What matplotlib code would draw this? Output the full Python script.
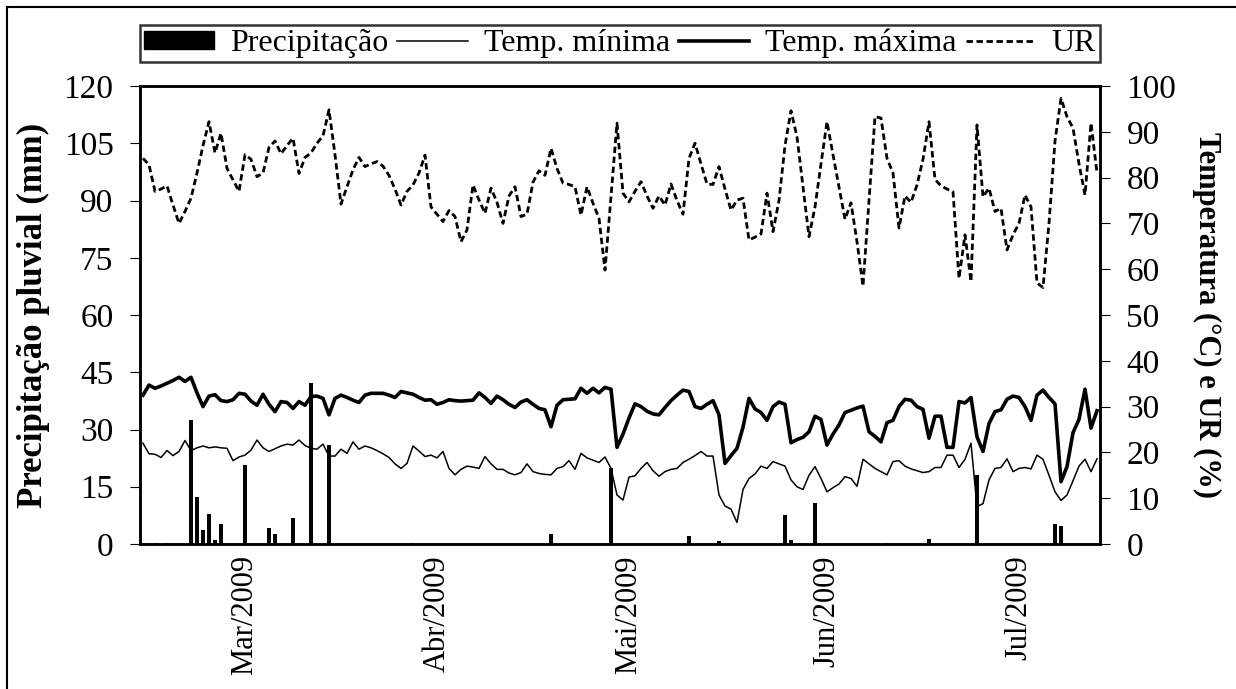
import matplotlib

matplotlib.use("Agg")

import matplotlib.pyplot as plt
import numpy as np
import pandas as pd
from matplotlib.lines import Line2D
from matplotlib.patches import Patch

plt.rcParams["font.family"] = ["Liberation Serif", "DejaVu Serif"]

# daily series, 12/Feb/2009 .. 21/Jul/2009
start_date = "2009-02-12"

ur = [
    84.2, 82.8, 77, 77.5, 78.2, 74, 70, 72.6, 75.5, 81,
    87, 92.2, 85.4, 89.7, 82, 79.5, 77, 85, 84, 80.2,
    81, 86.6, 88, 85.2, 87, 88.6, 80.9, 84.4, 85.4, 87.5,
    89.1, 94.8, 85, 74.2, 78, 81.7, 84.4, 82.4, 83, 83.5,
    82.5, 80.5, 77.5, 74, 77, 78.4, 81, 84.9, 73.6, 72,
    70.4, 72.8, 71.5, 66, 68.6, 78.4, 75.1, 72.2, 77.7, 74.6,
    70, 76, 78, 71.5, 72, 79, 81.5, 80.5, 86.4, 82,
    78.8, 78.5, 78, 71.8, 78, 74.4, 71.1, 59.8, 76, 91.9,
    76.6, 74.7, 77, 79.1, 76, 73.3, 76, 74, 78.6, 75,
    72, 84.2, 87.5, 83, 78.6, 78.5, 82.4, 77.5, 72.9, 75.1,
    75.5, 66.4, 67, 67.7, 76.6, 68.2, 75, 87, 94.6, 88.9,
    78, 67.1, 73.6, 83, 92.2, 85, 78, 70.9, 74.5, 66,
    56.3, 75, 93.3, 93, 84.2, 81, 69, 76, 74.6, 78.4,
    84, 92.2, 79.6, 78.2, 77.5, 76.9, 58, 67.5, 57.3, 91.5,
    75.8, 77.7, 72.6, 73.3, 64.2, 67.5, 70, 76.2, 73.6, 57,
    56, 70, 88, 97.3, 93.3, 90.8, 83, 76.2, 91.9, 81,
]

temp_max = [
    32.5, 34.7, 34, 34.5, 35.1, 35.7, 36.4, 35.5, 36.4, 33,
    30, 32.3, 32.6, 31.3, 31.1, 31.5, 32.9, 32.7, 31.2, 30.3,
    32.7, 30.5, 28.9, 31.1, 30.9, 29.6, 31.1, 30.3, 32.2, 32.3,
    31.8, 28.2, 31.8, 32.5, 32, 31.4, 30.9, 32.5, 32.9, 32.9,
    32.9, 32.5, 32, 33.3, 33, 32.7, 32, 31.4, 31.5, 30.5,
    30.9, 31.5, 31.3, 31.2, 31.3, 31.4, 33, 32, 30.7, 32.3,
    31.5, 30.5, 29.8, 31, 31.5, 30.5, 29.6, 29.3, 25.6, 30.3,
    31.5, 31.6, 31.7, 34, 32.9, 34, 33, 34.2, 33.8, 21.1,
    24, 27.5, 30.6, 30, 29, 28.4, 28.2, 29.8, 31.3, 32.5,
    33.6, 33.3, 30, 29.6, 30.5, 31.3, 28.2, 17.6, 19.3, 20.9,
    25.5, 31.8, 29.5, 28.7, 27, 30, 31, 30.5, 22.1, 22.8,
    23.3, 24.5, 27.9, 27.2, 21.6, 24, 26, 28.7, 29.2, 29.7,
    30.1, 24.5, 23.5, 22.3, 26.5, 27, 30, 31.6, 31.4, 30,
    29.4, 23.1, 27.9, 27.9, 21.1, 21.1, 31.1, 30.8, 32, 23.4,
    20.2, 26.3, 28.9, 29.3, 31.6, 32.3, 32, 30, 27, 32.5,
    33.6, 32, 30.6, 13.6, 16.9, 24.3, 27.2, 33.8, 25.3, 29.1,
]

temp_min = [
    22, 19.7, 19.6, 18.9, 20.4, 19.3, 20.2, 22.6, 20.4, 21,
    21.4, 21, 21.2, 21, 20.9, 18.2, 19, 19.4, 20.5, 22.7,
    21, 20.2, 20.8, 21.4, 21.8, 21.6, 22.7, 21.5, 20.9, 20.7,
    21.8, 19.2, 19.2, 20.7, 19.8, 22.3, 20.7, 21.4, 21, 20.4,
    19.7, 18.9, 17.5, 16.5, 17.6, 21.4, 20.3, 19.1, 19.4, 18.8,
    20.2, 16.5, 15.1, 16.3, 17, 16.8, 16.5, 19.1, 17.5, 16.3,
    16.3, 15.5, 15.1, 15.6, 17.5, 15.8, 15.4, 15.2, 15.1, 16.5,
    16.9, 18.2, 16.3, 19.8, 18.8, 18.3, 17.8, 19, 16.5, 10.7,
    9.6, 14.6, 14.9, 16.5, 17.8, 16, 14.8, 15.8, 16.3, 16.5,
    17.8, 18.5, 19.3, 20.2, 19.2, 19.2, 10.7, 8.3, 7.6, 4.7,
    11.9, 14.3, 15.3, 17, 16.5, 18, 17.5, 17, 14, 12.5,
    11.9, 15, 16.9, 14.3, 11.4, 12.3, 13.1, 14.7, 14.3, 12.6,
    18.5, 17.5, 16.5, 15.8, 15.1, 18, 18.2, 17, 16.4, 16,
    15.6, 15.8, 16.7, 16.7, 19.4, 19.4, 16.7, 18.5, 22, 8.2,
    8.8, 14, 16.5, 16.7, 18.6, 15.8, 16.5, 16.7, 16.4, 19.4,
    18.5, 15, 11.4, 9.5, 10.7, 13.8, 17, 18.5, 15.8, 18.6,
]

# days with rain (index from start_date) and amount in mm
rain_day = [2, 4, 8, 9, 10, 11, 12, 13, 17, 21, 22, 25, 28, 31, 45,
            68, 78, 91, 96, 107, 108, 112, 124, 131, 139, 152, 153]
rain_mm = [0.3, 0.3, 32.5, 12.2, 3.7, 7.9, 1.0, 5.2, 20.6, 4.3, 2.6, 6.8, 42.1, 25.9, 0.3,
           2.6, 19.8, 2.1, 0.8, 7.6, 1.0, 10.7, 0.3, 1.4, 18.1, 5.2, 4.8]

# category labels are shown every ~32 days, not on the month start
label_dates = ["2009-03-01", "2009-04-02", "2009-05-04", "2009-06-06", "2009-07-08"]
label_text = ["Mar/2009", "Abr/2009", "Mai/2009", "Jun/2009", "Jul/2009"]

dates = pd.date_range(start_date, periods=len(ur), freq="D")
rain = np.zeros(len(dates))
rain[rain_day] = rain_mm

W, H = 1236, 689
fig = plt.figure(figsize=(W / 100, H / 100), dpi=100)
ax = fig.add_axes([140 / W, 1 - 544 / H, 960 / W, 458 / H])
ax2 = ax.twinx()

UR_STYLE = dict(color="black", lw=2.0, ls=(0, (2.3, 1.3)))

ax.bar(dates, rain, width=0.55, color="black", zorder=2)
ax2.plot(dates, temp_min, color="black", lw=1.1)
ax2.plot(dates, temp_max, color="black", lw=2.6)
ax2.plot(dates, ur, **UR_STYLE)

half = pd.Timedelta(hours=12)
ax.set_xlim(dates[0] - half, dates[-1] + half)
ax.set_ylim(0, 120)
ax.set_yticks(np.arange(0, 121, 15))
ax2.set_ylim(0, 100)
ax2.set_yticks(np.arange(0, 101, 10))

ax.set_xticks(pd.to_datetime(label_dates))
ax.set_xticklabels(label_text, rotation=90)
ax.tick_params(axis="x", length=0, labelsize=22, pad=8)
ax.tick_params(axis="y", direction="out", length=7, width=0.8, labelsize=24, pad=12)
ax2.tick_params(axis="y", direction="out", length=7, width=0.8, labelsize=24, pad=12)

for a in (ax, ax2):
    for sp in a.spines.values():
        sp.set_linewidth(1.8)

ax.set_ylabel("Precipitação pluvial (mm)", fontsize=25, fontweight="bold", labelpad=10)
ax2.set_ylabel("Temperatura (°C) e UR (%)", fontsize=22, fontweight="bold",
               rotation=270, labelpad=32)

handles = [
    Patch(facecolor="black", edgecolor="black"),
    Line2D([], [], color="black", lw=1.1),
    Line2D([], [], color="black", lw=2.6),
    Line2D([], [], **UR_STYLE),
]
labels = ["Precipitação", "Temp. mínima", "Temp. máxima", "UR"]
leg = fig.legend(handles, labels, loc="lower left", ncol=4, mode="expand",
                 bbox_to_anchor=(140 / W, 1 - 62 / H, 960 / W, 44 / H),
                 fontsize=23, frameon=True, fancybox=False, edgecolor="black",
                 handlelength=2.2, handleheight=0.5, handletextpad=0.5,
                 columnspacing=0.4, borderpad=0.12, borderaxespad=0)
leg.get_frame().set_linewidth(1.8)

# outer chart frame (top and left edges visible)
fig.add_artist(Line2D([7 / W, 7 / W], [0, 1 - 7 / H], color="black", lw=1.5))
fig.add_artist(Line2D([7 / W, 1], [1 - 7 / H, 1 - 7 / H], color="black", lw=1.5))

fig.savefig("out.png", dpi=100)
